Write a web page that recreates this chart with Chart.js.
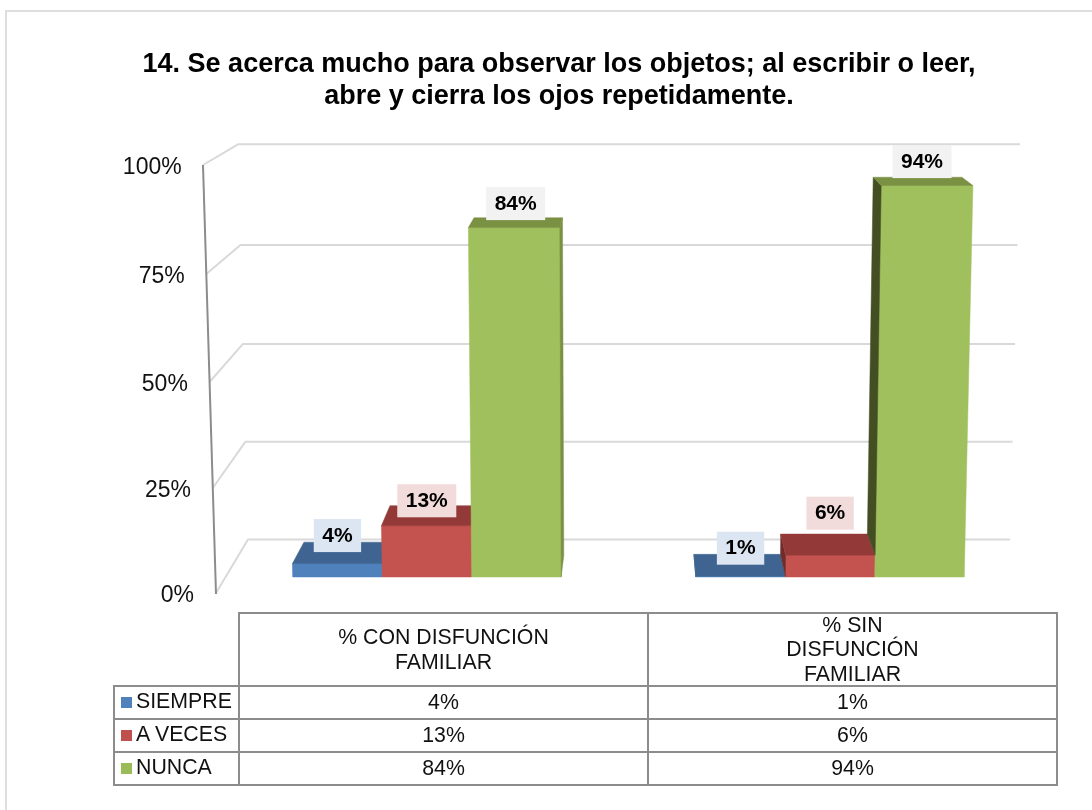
<!DOCTYPE html>
<html>
<head>
<meta charset="utf-8">
<title>14. Se acerca mucho para observar los objetos</title>
<script src="https://cdn.jsdelivr.net/npm/chart.js@4"></script>
<style>
  html, body { margin: 0; padding: 0; background: #fff; overflow: hidden; }
  body { width: 1092px; height: 810px; position: relative; font-family: "Liberation Sans", Arial, sans-serif; color: #111; }
  #frame { position: absolute; left: 5px; top: 10px; right: 0; bottom: 0; border-left: 2px solid #dedede; border-top: 2px solid #dedede; }
  #wrap { position: absolute; left: 26px; top: 0; width: 1066px; height: 810px; }
  #data-table { position: absolute; left: 113px; top: 612px; border-collapse: collapse; table-layout: fixed; width: 943px; font-size: 21.3px; }
  #data-table td { border: 2px solid #8c8c8c; text-align: center; padding: 0; height: 31px; line-height: 24.5px; }
  #data-table td.blank { border-top: none; border-left: none; }
  #data-table td.name { text-align: left; padding: 0 0 3px 6px; height: 28px; white-space: nowrap; }
  #data-table tr.head td { height: 71px; }
  /* three header lines are taller than the row, let them overflow evenly */
  .head-text { height: 71px; display: flex; flex-direction: column; justify-content: center; white-space: pre-line; }
  .swatch { display: inline-block; width: 11px; height: 11px; margin-right: 4px; }
</style>
</head>
<body>
<div id="frame"></div>
<div id="wrap"><canvas id="chart" width="1066" height="810"></canvas></div>
<table id="data-table"></table>

<script>
const titleLines = ['14. Se acerca mucho para observar los objetos; al escribir o leer,', 'abre y cierra los ojos repetidamente.'];
const categories = [['% CON DISFUNCIÓN', 'FAMILIAR'], ['% SIN', 'DISFUNCIÓN', 'FAMILIAR']];
const seriesNames = ['SIEMPRE', 'A VECES', 'NUNCA'];
const siempre = [4, 1];
const aVeces = [13, 6];
const nunca = [84, 94];
const tickValues = [0, 25, 50, 75, 100];

// colours: bar front, legend swatch, top face, side face, label box
const frontColors = ['#4f81bd', '#c4524f', '#a0c05e'];
const swatchColors = ['#4f81bd', '#c0504d', '#9bbb59'];
const topColors = ['#3f6491', '#933a39', '#7a9144'];
const sideColors = ['#2f4a6e', '#6e2c2b', '#434f23'];
const boxColors = ['#dce6f2', '#f2dcdb', '#f2f2f2'];

// how far each data label sits above its bar (manual placement in the original)
const labelLift = [[28, 28], [25, 42], [24, 24]];
// wall edges do not run quite straight, per tick nudges from the scales
const edgeDrop = [12.6, 12.6, 11.6, 8.6, 4.6];
const wallDrop = [0, 1, 2, 2, 0];

const canvasLeft = 26;
const FLOOR = 0.8;

// fake perspective of the 3D bars
const lean = (x, v) => (x - 595) * 0.00027 * v;
const depthX = x => (614 - x) * 0.033;
const depthY = v => 22 - 0.145 * v;

function poly(ctx, pts, color) {
  ctx.beginPath();
  pts.forEach((p, i) => i ? ctx.lineTo(p[0], p[1]) : ctx.moveTo(p[0], p[1]));
  ctx.closePath();
  ctx.fillStyle = color;
  ctx.fill();
  // same colour stroke hides the seams between faces
  ctx.strokeStyle = color;
  ctx.lineWidth = 0.5;
  ctx.stroke();
}

const seriesData = [siempre, aVeces, nunca];

const bars3d = {
  id: 'bars3d',
  // walls, grid lines and tick labels
  beforeDatasetsDraw(chart) {
    const ctx = chart.ctx;
    const y = chart.scales.y;
    const wall = chart.scales.wall;
    ctx.save();
    ctx.lineJoin = 'round';
    tickValues.forEach((v, i) => {
      const fy = y.getPixelForValue(v) + edgeDrop[i];
      const fx = 216 - canvasLeft - 0.13 * v;
      const by = wall.getPixelForValue(v) + wallDrop[i];
      ctx.beginPath();
      ctx.moveTo(fx, fy);
      ctx.lineTo(248 - canvasLeft - 0.1 * v, by);
      ctx.lineTo(1010 - canvasLeft + 0.1 * v, by);
      ctx.strokeStyle = '#d9d9d9';
      ctx.lineWidth = 2;
      ctx.stroke();

      ctx.font = '23px "Liberation Sans", Arial, sans-serif';
      ctx.fillStyle = '#111';
      ctx.textAlign = 'right';
      ctx.textBaseline = 'middle';
      ctx.fillText(v + '%', 194 - canvasLeft - 0.123 * v, fy + 3);
    });
    // slanted axis line
    ctx.beginPath();
    ctx.moveTo(216 - canvasLeft, y.getPixelForValue(0) + edgeDrop[0] + 1);
    ctx.lineTo(216 - canvasLeft - 13, y.getPixelForValue(100) + edgeDrop[4]);
    ctx.strokeStyle = '#8c8c8c';
    ctx.lineWidth = 2;
    ctx.stroke();
    ctx.restore();
  },
  afterDatasetsDraw(chart) {
    const ctx = chart.ctx;
    const y = chart.scales.y;
    ctx.save();
    // faces of each bar, blue first and green last
    seriesData.forEach((values, d) => {
      chart.getDatasetMeta(d).data.forEach((bar, j) => {
        const v = values[j];
        const left = bar.x - bar.width / 2;
        const right = bar.x + bar.width / 2;
        const front = (x, val) => [x + lean(x, val), y.getPixelForValue(val)];
        const back = (x, val) => {
          const p = front(x, val);
          return [p[0] + depthX(p[0]), p[1] - depthY(val)];
        };
        poly(ctx, [[left, bar.base], front(left, v), front(right, v), [right, bar.base]], frontColors[d]);

        // side face only shows above the neighbouring bar
        if (depthX(left) < 0) {
          const n = d > 0 ? seriesData[d - 1][j] : FLOOR;
          if (n < v) poly(ctx, [front(left, n), front(left, v), back(left, v), back(left, n)], sideColors[d]);
        }
        if (depthX(right) > 0) {
          const n = d < 2 ? seriesData[d + 1][j] : FLOOR;
          if (n < v) poly(ctx, [front(right, n), front(right, v), back(right, v), back(right, n)], topColors[d]);
        }
        poly(ctx, [front(left, v), front(right, v), back(right, v), back(left, v)], topColors[d]);
      });
    });
    // data labels
    ctx.font = 'bold 21px "Liberation Sans", Arial, sans-serif';
    ctx.textAlign = 'center';
    ctx.textBaseline = 'middle';
    seriesData.forEach((values, d) => {
      chart.getDatasetMeta(d).data.forEach((bar, j) => {
        const text = values[j] + '%';
        const cx = bar.x + lean(bar.x, values[j]) / 3;
        const cy = bar.y - labelLift[d][j];
        const w = ctx.measureText(text).width + 17;
        ctx.fillStyle = boxColors[d];
        ctx.fillRect(cx - w / 2, cy - 16.5, w, 33);
        ctx.fillStyle = '#000';
        ctx.fillText(text, cx, cy + 0.5);
      });
    });
    ctx.restore();
  }
};

new Chart(document.getElementById('chart'), {
  type: 'bar',
  data: {
    labels: categories,
    datasets: seriesData.map((values, i) => ({
      label: seriesNames[i],
      data: values,
      backgroundColor: frontColors[i],
      base: FLOOR
    }))
  },
  plugins: [bars3d],
  options: {
    responsive: false,
    animation: false,
    categoryPercentage: 0.666,
    barPercentage: 1,
    layout: { padding: { left: 0, right: 0, top: 0, bottom: 210 } },
    plugins: {
      legend: { display: false },
      tooltip: { enabled: false },
      title: {
        display: true,
        text: titleLines,
        color: '#000',
        font: { family: '"Liberation Sans", Arial, sans-serif', size: 27, weight: 'bold', lineHeight: 32 / 27 },
        padding: { top: 49, bottom: 7 }
      }
    },
    scales: {
      x: { display: false },
      // axis boxes only reserve room, the ticks are drawn by the plugin along the slanted wall
      y: {
        min: -4.67, max: 109.62,
        ticks: { display: false },
        grid: { display: false },
        border: { display: false },
        afterFit(s) { s.width = 199.5; }
      },
      wall: {
        position: 'right',
        min: -15.31, max: 106.15,
        ticks: { display: false },
        grid: { display: false },
        border: { display: false },
        afterFit(s) { s.width = 60.5; }
      }
    }
  }
});

// data table under the chart
const table = document.getElementById('data-table');
let html = '<colgroup><col style="width:125px"><col style="width:409px"><col style="width:409px"></colgroup>';
html += '<tr class="head"><td class="blank"></td>' + categories.map(c => '<td><div class="head-text">' + c.join('\n') + '</div></td>').join('') + '</tr>';
seriesNames.forEach((name, i) => {
  html += '<tr><td class="name"><span class="swatch" style="background:' + swatchColors[i] + '"></span>' + name + '</td>' +
    seriesData[i].map(v => '<td>' + v + '%</td>').join('') + '</tr>';
});
table.innerHTML = html;
</script>
</body>
</html>
